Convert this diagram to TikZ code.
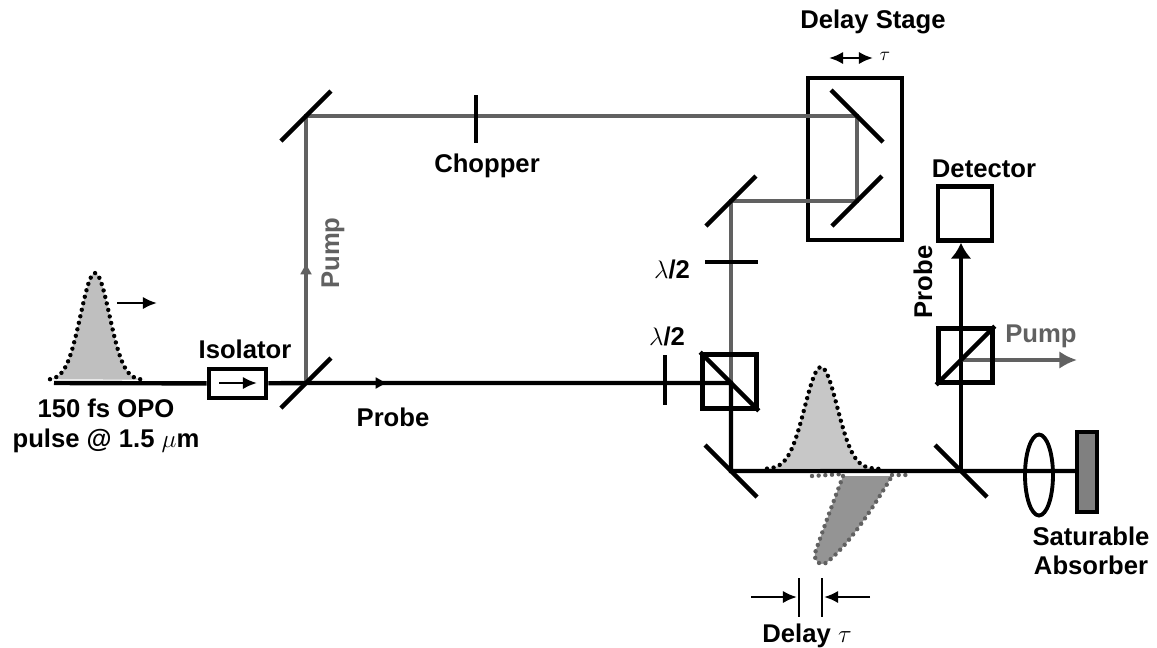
\documentclass[tikz,border=0pt]{standalone}
\usepackage{fontspec}
\setmainfont{Liberation Sans}
\usetikzlibrary{positioning, arrows.meta, shapes.geometric}

\begin{document}
\begin{tikzpicture}[x=0.02cm, y=-0.02cm,
	probe/.style={line width=2.5pt, black},
	pump/.style={line width=2.5pt, black!62},
	optic/.style={line width=2.5pt, black},
	thinline/.style={line width=1.4pt, black},
	box/.style={rectangle, draw, line width=2.6pt, inner sep=0pt},
	cube/.style={box, minimum size=1.08cm},
	lbl/.style={font=\bfseries\fontsize{14.6}{15}\selectfont, inner sep=0pt},
	dots/.style={line width=2.5pt, line cap=round, dash pattern=on 0pt off 3.8pt},
	small/.style={-{Latex[length=8pt, width=7pt]}, thinline},
	mid/.style={-{Latex[length=7pt, width=7pt]}}]
	\useasboundingbox (0,0) rectangle (1157,647);

	\fill[black!25] plot[domain=50:145, samples=70] (\x, {380-107*exp(-1*pow((\x-95)/20.4,2))}) -- cycle;
	\draw[dots] plot[domain=50:145, samples=70] (\x, {380-107*exp(-1*pow((\x-95)/20.4,2))});
	\fill[black!22] plot[domain=767:882, samples=70] (\x, {469-102*exp(-1*pow((\x-821)/23,2))}) -- cycle;
	\draw[dots] plot[domain=767:882, samples=70] (\x, {469-102*exp(-1*pow((\x-821)/23,2))});
	\draw[dots, black!62, fill=black!42] (843,476) .. controls (838,490) and (830,510) .. (815,553)
		.. controls (814,562) and (820,566) .. (826,563) .. controls (840,552) and (860,530) .. (892,476);
	\draw[dots, black!62] (812,476) -- (843,474);
	\draw[dots, black!62] (892,475) -- (912,475);

	\coordinate (source) at (54,383);
	\coordinate (split) at (306,383);
	\coordinate (mirrortop) at (306,116);
	\coordinate (stageup) at (857,116);
	\coordinate (stagelow) at (857,201);
	\coordinate (mirrorback) at (731,201);
	\coordinate (mirrorleft) at (731,471);
	\coordinate (mirrorright) at (961,471);
	\coordinate (plate) at (665,383);
	\coordinate (chop) at (476,116);
	\coordinate (plateup) at (731,262);
	\coordinate (cubecross) at (731,383);
	\coordinate (probemid) at (388,383);
	\coordinate (pumpmid) at (306,262);
	\coordinate (cubeout) at (961,360);
	\coordinate (pumpend) at (1077,360);

	\node[box, fill=white, minimum width=1.14cm, minimum height=0.58cm] (iso) at (237.5,383.5) {};
	\node[rectangle, fill=black!50, draw, line width=1.8pt, minimum width=0.4cm, minimum height=1.6cm, inner sep=0pt] (absorber) at (1087,472) {};
	\node[box, minimum width=1.88cm, minimum height=3.24cm] (stage) at (855,159) {};
	\node[box, minimum size=1.08cm] (det) at (965,213.5) {};

	\draw[pump] (split) -- (mirrortop) -- (stageup) -- (stagelow) -- (mirrorback) -- (cubecross);
	\draw[pump, mid] (split) -- (pumpmid);
	\draw[probe] (source) -- (iso);
	\draw[probe] (iso) -- (split) -- (cubecross) -- (mirrorleft) -- (absorber.west |- mirrorleft);
	\draw[probe, mid] (split) -- (probemid);
	\draw[probe] (mirrorright) -- (961,300);
	\draw[probe, -{Latex[length=9pt, width=12pt]}] (961,300) -- (det.south -| mirrorright);
	\draw[pump, -{Latex[length=10pt, width=10pt]}] (cubeout) -- (pumpend);

	\node[cube] (cubeA) at (729.5,381.5) {};
	\node[cube] (cubeB) at (965.5,355.5) {};
	\draw[optic] (cubeA.north west) -- (cubeA.south east);
	\draw[optic] (cubeB.south west) -- (cubeB.north east);

	\foreach \m in {split, mirrortop, stagelow, mirrorback}
		\draw[optic] (\m) ++(-25,25) -- ++(50,-50);
	\foreach \m in {stageup, mirrorleft, mirrorright}
		\draw[optic] (\m) ++(-26,-26) -- ++(52,52);
	\draw[optic] (chop) ++(0,-21) -- ++(0,48);
	\draw[optic] (plate) ++(0,-28) -- ++(0,50);
	\draw[optic] (plateup) ++(-26,0) -- ++(53,0);

	\node[ellipse, draw, line width=2.2pt, minimum width=0.56cm, minimum height=1.62cm, inner sep=0pt] (lens) at (1039,475) {};

	\draw[small] (219,383) -- (257,383);
	\draw[small] (117,303) -- (157,303);
	\draw[thinline, {Latex[length=8pt, width=7pt]}-{Latex[length=8pt, width=7pt]}] (829,58) -- (873,58);
	\draw[thinline] (799,578) -- (799,617);
	\draw[thinline] (822,578) -- (822,617);
	\draw[small] (751,597) -- (797,597);
	\draw[small] (870,597) -- (824,597);

	\node[lbl] (isolabel) at (245,349) {Isolator};
	\node[lbl] (opo) at (106,408) {150 fs OPO};
	\node[lbl, below=18.5pt of opo.center, anchor=center] (pulse) {pulse @ 1.5 $\mu$m};
	\node[lbl] (probelabel) at (393,417) {Probe};
	\node[lbl] (chopper) at (487,166) {Chopper};
	\node[lbl] (stagelabel) at (873,22) {Delay Stage};
	\node[lbl] (tau) at (885,56) {\fontsize{11}{11}\selectfont$\tau$};
	\node[lbl] (detlabel) at (984,169) {Detector};
	\node[lbl, rotate=90] (pumpup) at (333,253) {\color{black!62}Pump};
	\node[lbl, rotate=90] (probeup) at (923,282) {Probe};
	\node[lbl] (pumpout) at (1041,336) {\color{black!62}Pump};
	\node[lbl] (halfup) at (672,269) {$\lambda$/2};
	\node[lbl] (halfdown) at (667,336) {$\lambda$/2};
	\node[lbl] (sat) at (1091,536) {Saturable};
	\node[lbl] (abs) at (1091,565) {Absorber};
	\node[lbl] (delay) at (807,636) {Delay $\tau$};
\end{tikzpicture}
\end{document}
